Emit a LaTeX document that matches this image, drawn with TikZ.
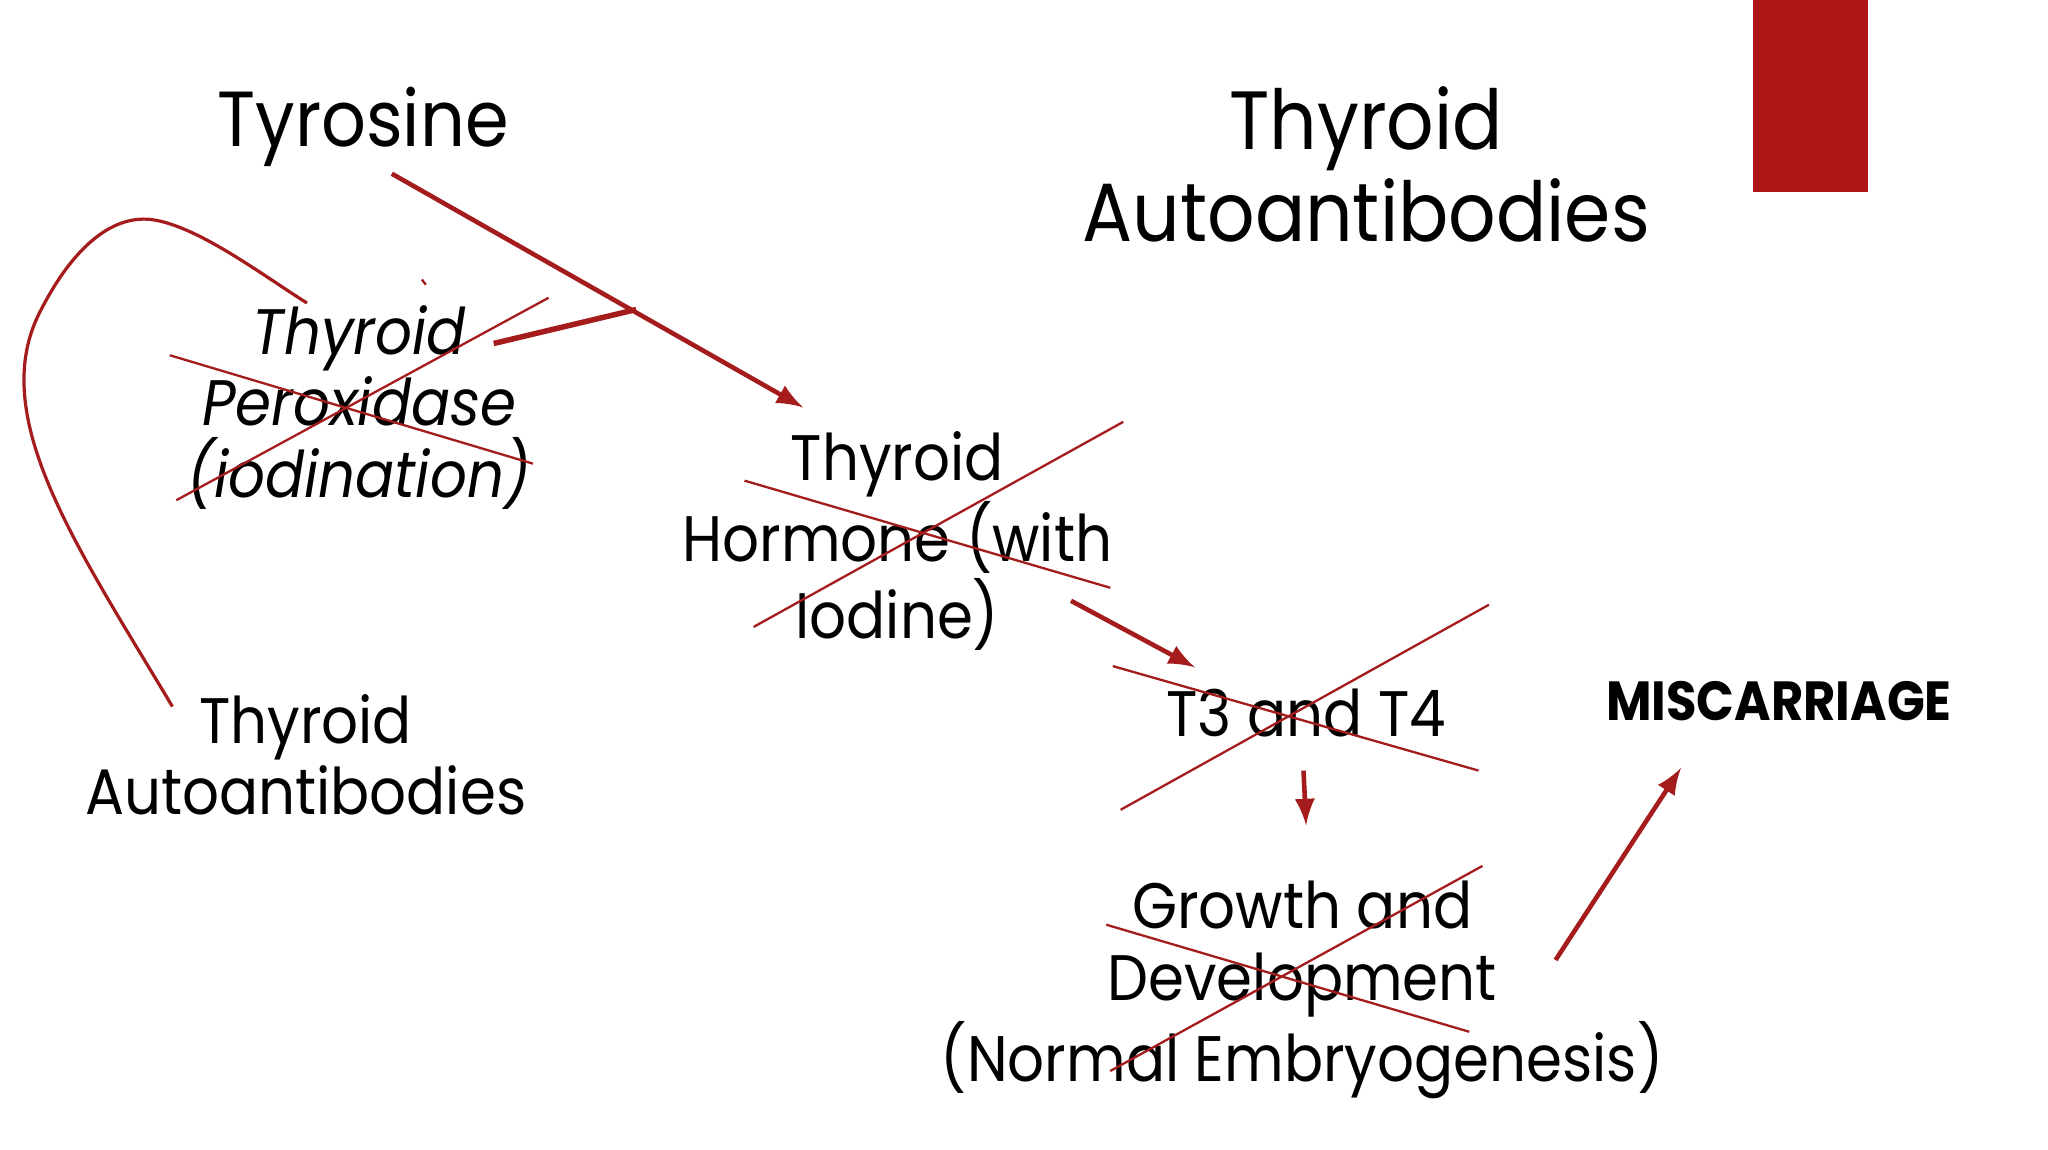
\documentclass[tikz,border=0pt]{standalone}
\usepackage{fontspec}
\setmainfont{Poppins}[FakeStretch=0.9]
\definecolor{dred}{HTML}{A51C1C}
\definecolor{bred}{HTML}{AD1616}
\begin{document}
\begin{tikzpicture}[x=0.01cm,y=-0.01cm,
  lbl/.style={align=center,font=\fontsize{14}{15.6}\selectfont,inner sep=0},
  ink/.style={draw=dred,line width=0.5pt},
  arr/.style={draw=dred,line width=1pt,-latex}]
\useasboundingbox (0,0) rectangle (1568,880);
\fill[white] (0,0) rectangle (1568,880);
\fill[bred] (1342,0) rectangle (1430,147);
\node[align=center,inner sep=0,font=\fontsize{17}{20}\selectfont] (tyr) at (278,97) {Tyrosine};
\node[align=center,inner sep=0,font=\fontsize{18}{20}\selectfont] (tab) at (1046,126) {Thyroid\\Autoantibodies};
\node[lbl,font=\fontsize{14}{15.6}\selectfont\itshape] (tpo) at (275,312) {Thyroid\\Peroxidase\\(iodination)};
\node[lbl] (th) at (687,414) {Thyroid\\Hormone (with\\Iodine)};
\node[lbl] (t34) at (1000,546) {T3 and T4};
\node[lbl] (gd) at (997,758) {Growth and\\Development\\(Normal Embryogenesis)};
\node[lbl] (lab) at (234,578) {Thyroid\\Autoantibodies};
\node[inner sep=0,font=\fontsize{12}{12}\selectfont\bfseries] (mis) at (1362,537) {MISCARRIAGE};
% coordinates
\coordinate (a1) at (300,133); \coordinate (a2) at (615,312);
\coordinate (b1) at (378,263); \coordinate (b2) at (487,237);
\coordinate (c1) at (820,460); \coordinate (c2) at (915,511);
\coordinate (d1) at (998,590); \coordinate (d2) at (1000,632);
\coordinate (e1) at (1191,735); \coordinate (e2) at (1287,588);
\draw[arr] (a1) -- (a2);
\draw[draw=dred,line width=1.2pt] (b1) -- (b2);
\draw[arr] (c1) -- (c2);
\draw[arr] (d1) -- (d2);
\draw[arr] (e1) -- (e2);
% crosses
\draw[ink] (130,272) -- (408,355); \draw[ink] (135,383) -- (420,228);
\draw[ink] (570,368) -- (850,450); \draw[ink] (577,480) -- (860,323);
\draw[ink] (852,510) -- (1132,590); \draw[ink] (858,620) -- (1140,463);
\draw[ink] (847,708) -- (1125,790); \draw[ink] (850,820) -- (1135,663);
% curve
\draw[ink,line width=0.7pt] (132,541) .. controls (60,420) and (-10,320) .. (30,240)
  .. controls (55,190) and (85,165) .. (115,168)
  .. controls (150,172) and (200,210) .. (235,232);
\draw[ink] (323,214) -- (326,218);
\end{tikzpicture}
\end{document}
